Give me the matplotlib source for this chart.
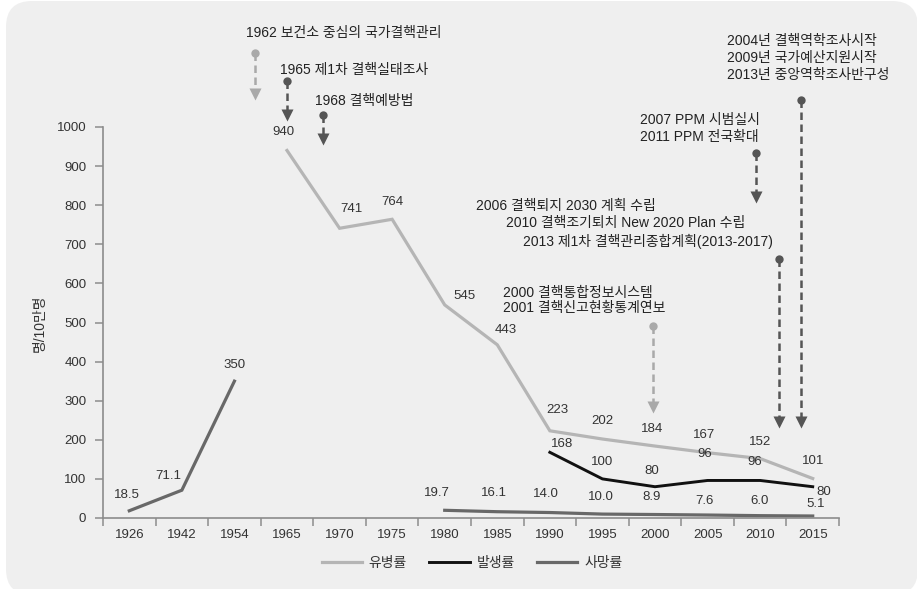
import numpy as np
import matplotlib
matplotlib.use("Agg")
import matplotlib.pyplot as plt
from matplotlib.patches import FancyBboxPatch
from matplotlib.transforms import IdentityTransform

plt.rcParams['font.family'] = ['Liberation Sans', 'Noto Sans CJK KR', 'DejaVu Sans']

# ---------------- data ----------------
years = ['1926', '1942', '1954', '1965', '1970', '1975', '1980', '1985',
         '1990', '1995', '2000', '2005', '2010', '2015']
prevalence = [np.nan, np.nan, np.nan, 940, 741, 764, 545, 443, 223, 202, 184, 167, 152, 101]
incidence = [np.nan] * 8 + [168, 100, 80, 96, 96, 80]
mortality = [18.5, 71.1, 350, np.nan, np.nan, np.nan, 19.7, 16.1, 14.0, 10.0, 8.9, 7.6, 6.0, 5.1]
mortality_labels = ['18.5', '71.1', '350', '', '', '', '19.7', '16.1', '14.0', '10.0', '8.9', '7.6', '6.0', '5.1']
series_names = ['유병률', '발생률', '사망률']

# label offsets (pixels)
prev_off = [None, None, None, (-4, 18), (12, 19), (0, 17), (20, 9), (8, 15), (8, 21),
            (0, 18), (-3, 17), (-3, 18), (0, 17), (0, 18)]
inc_off = [None] * 8 + [(12, 8), (0, 17), (-3, 16), (-3, 26), (-5, 18), (11, -5)]
mort_off = [(-2, 16), (-14, 14), (0, 16), None, None, None, (-8, 17), (-3, 19), (-4, 19),
            (-2, 17), (-3, 18), (-3, 14), (-1, 15), (3, 12)]

# annotations: x position (category units), dot y, arrow y, colour key
ann_x = [2.39, 3.0, 3.68, 9.96, 12.36, 11.92, 12.78]
ann_dot_y = [1189, 1118, 1031, 491, 662, 934, 1069]
ann_tip_y = [1084, 1031, 969, 284, 246, 821, 246]
ann_light = [True, False, False, True, False, False, False]

# annotation texts: (x, y, text)
ann_texts = [
    (2.22, 1240, '1962 보건소 중심의 국가결핵관리'),
    (2.87, 1147, '1965 제1차 결핵실태조사'),
    (3.53, 1066, '1968 결핵예방법'),
    (7.11, 575, '2000 결핵통합정보시스템'),
    (7.11, 537, '2001 결핵신고현황통계연보'),
    (6.60, 798, '2006 결핵퇴지 2030 계획 수립'),
    (7.17, 754, '2010 결핵조기퇴치 New 2020 Plan 수립'),
    (7.49, 708, '2013 제1차 결핵관리종합계획(2013-2017)'),
    (9.71, 1018, '2007 PPM 시범실시'),
    (9.71, 974, '2011 PPM 전국확대'),
    (11.37, 1220, '2004년 결핵역학조사시작'),
    (11.37, 1176, '2009년 국가예산지원시작'),
    (11.37, 1133, '2013년 중앙역학조사반구성'),
]

# ---------------- figure ----------------
W, H = 917, 589
fig = plt.figure(figsize=(W / 100, H / 100), dpi=100)
fig.patch.set_facecolor('white')

bg = FancyBboxPatch((6, -6), 912, 594, boxstyle="round,pad=0,rounding_size=26",
                    transform=IdentityTransform(), facecolor='#efefef',
                    edgecolor='none', zorder=-10)
fig.patches.append(bg)

ax = fig.add_axes([103 / W, (H - 518) / H, (839 - 103) / W, (518 - 127) / H])
ax.set_facecolor('none')

x = np.arange(len(years))
c_prev, c_inc, c_mort = '#b5b5b5', '#111111', '#686868'
txt_c = '#333333'

ax.plot(x, prevalence, color=c_prev, lw=2.3, solid_joinstyle='miter', label=series_names[0])
ax.plot(x, incidence, color=c_inc, lw=2.1, solid_joinstyle='miter', label=series_names[1])
ax.plot(x, mortality, color=c_mort, lw=2.3, solid_joinstyle='miter', label=series_names[2])

fs_lab = 9.5
for i in range(len(years)):
    if not np.isnan(prevalence[i]):
        ax.annotate(f'{prevalence[i]:g}', (x[i], prevalence[i]), xytext=prev_off[i],
                    textcoords='offset pixels', ha='center', va='center',
                    fontsize=fs_lab, color=txt_c)
    if not np.isnan(incidence[i]):
        ax.annotate(f'{incidence[i]:g}', (x[i], incidence[i]), xytext=inc_off[i],
                    textcoords='offset pixels', ha='center', va='center',
                    fontsize=fs_lab, color=txt_c)
    if not np.isnan(mortality[i]):
        ax.annotate(mortality_labels[i], (x[i], mortality[i]), xytext=mort_off[i],
                    textcoords='offset pixels', ha='center', va='center',
                    fontsize=fs_lab, color=txt_c)

# annotation arrows
for xa, yd, yt, light in zip(ann_x, ann_dot_y, ann_tip_y, ann_light):
    col = '#a9a9a9' if light else '#555555'
    ax.plot([xa, xa], [yd, yt], color=col, lw=1.8, ls=(0, (3, 1.8)), clip_on=False)
    ax.plot([xa], [yd], marker='o', ms=6, color=col, mec='none', clip_on=False)
    ax.plot([xa], [yt], marker='v', ms=8, color=col, mec='none', clip_on=False)

for xt, yt, s in ann_texts:
    ax.text(xt, yt, s, ha='left', va='center', fontsize=10, color='#222222', clip_on=False)

# axes styling
ax.set_xlim(-0.5, len(years) - 0.5)
ax.set_ylim(0, 1000)
ax.set_yticks(np.arange(0, 1001, 100))
ax.set_xticks(np.arange(-0.5, len(years), 1.0))
ax.set_xticklabels([])
ax.set_xticks(x, minor=True)
ax.set_xticklabels(years, minor=True)
ax.tick_params(axis='x', which='minor', length=0, pad=8, labelsize=9.5, labelcolor=txt_c)
ax.tick_params(axis='x', which='major', length=6, width=1.1, color='#8c8c8c', direction='out')
ax.tick_params(axis='y', length=6, width=1.1, color='#8c8c8c', direction='out', pad=6,
               labelsize=9.5, labelcolor=txt_c)
for s in ['top', 'right']:
    ax.spines[s].set_visible(False)
for s in ['left', 'bottom']:
    ax.spines[s].set_color('#8c8c8c')
    ax.spines[s].set_linewidth(1.2)

fig.text(40 / W, 1 - 323 / H, '명/10만명', rotation=90, ha='center', va='center',
         fontsize=10, color=txt_c)

leg = fig.legend(loc='center', bbox_to_anchor=(472 / W, 1 - 563 / H), ncol=3, frameon=False,
                 fontsize=10, handlelength=2.9, handletextpad=0.5, columnspacing=1.6)
for t in leg.get_texts():
    t.set_color(txt_c)

fig.savefig('out.png', dpi=100, facecolor='white')
